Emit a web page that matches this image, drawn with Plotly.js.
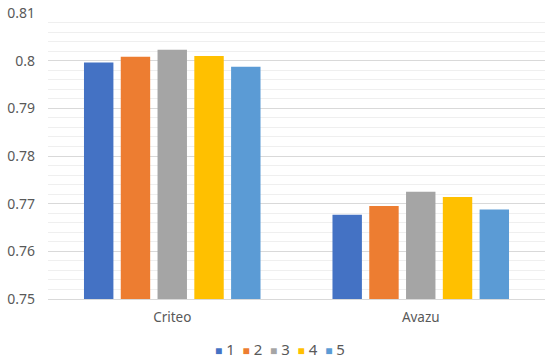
<!DOCTYPE html>
<html><head><meta charset="utf-8">
<script src="https://cdn.plot.ly/plotly-3.0.1.min.js"></script>
<style>body{margin:0;background:#fff}#c{width:550px;height:362px}</style>
</head><body><div id="c"></div>
<script>
const categories = ["Criteo", "Avazu"];
const seriesNames = ["1", "2", "3", "4", "5"];
const s1 = [0.7996, 0.7677];
const s2 = [0.8008, 0.7695];
const s3 = [0.8023, 0.7725];
const s4 = [0.8010, 0.7714];
const s5 = [0.7987, 0.7688];
const colors = ["#4472C4", "#ED7D31", "#A5A5A5", "#FFC000", "#5B9BD5"];
const series = [s1, s2, s3, s4, s5];

const traces = series.map((v, i) => ({
  type: "bar", x: categories, y: v, name: seriesNames[i],
  marker: {color: colors[i]}, hoverinfo: "skip", showlegend: false
}));

const legendText = seriesNames.map((n, i) =>
  '<span style="color:' + colors[i] + ';font-size:12px">■</span> ' + n
).join('&nbsp;&nbsp;');

const layout = {
  width: 550, height: 362,
  margin: {l: 48, r: 5, t: 13, b: 63},
  paper_bgcolor: "#fff", plot_bgcolor: "#fff",
  font: {family: "Noto Sans, sans-serif", color: "#595959", size: 13},
  barmode: "group", bargap: 0.26, bargroupgap: 0.2,
  showlegend: false,
  xaxis: {showline: true, linecolor: "#D9D9D9", ticks: "", tickfont: {size: 13.5}, fixedrange: true, ticklabelstandoff: 6},
  yaxis: {range: [0.75, 0.81], dtick: 0.01, tickformat: "~r", showline: false, zeroline: false,
          gridcolor: "#D9D9D9", gridwidth: 1, ticks: "", ticklen: 0, tickfont: {size: 14},
          ticklabelstandoff: 12,
          minor: {dtick: 0.002, showgrid: true, gridcolor: "#EFEFEF", gridwidth: 1}},
  annotations: [{
    xref: "paper", yref: "paper", x: 0.466, y: -0.175, xanchor: "center", yanchor: "middle",
    text: legendText, showarrow: false, font: {size: 15, color: "#595959"}
  }]
};
Plotly.newPlot("c", traces, layout, {staticPlot: true});
</script></body></html>
